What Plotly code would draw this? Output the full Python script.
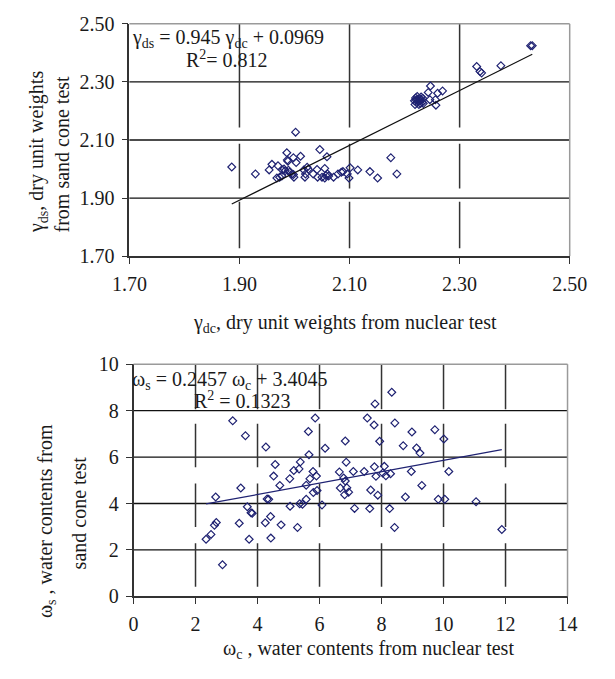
import numpy as np
import plotly.graph_objects as go

# ---------------- data: top chart (dry unit weights) ----------------
gamma_dc = [1.886, 1.929, 1.954, 1.959, 1.970, 1.968, 1.973, 1.977, 1.978, 1.981,
            1.983, 1.986, 1.987, 1.988, 1.989, 1.991, 1.995, 1.998, 1.998, 1.999,
            2.002, 2.003, 2.011, 2.017, 2.019, 2.020, 2.023, 2.025, 2.034, 2.041,
            2.042, 2.046, 2.050, 2.055, 2.055, 2.057, 2.059, 2.060, 2.062, 2.071,
            2.079, 2.085, 2.088, 2.096, 2.099, 2.101, 2.115, 2.137, 2.151, 2.175,
            2.186,
            2.218, 2.220, 2.222, 2.224, 2.226, 2.228, 2.230, 2.232, 2.219, 2.223,
            2.227, 2.231, 2.234, 2.221, 2.229, 2.225, 2.233,
            2.247, 2.243, 2.246, 2.256, 2.257, 2.260, 2.269,
            2.331, 2.337, 2.340, 2.375, 2.429, 2.432]
gamma_ds = [2.007, 1.983, 1.997, 2.016, 2.011, 1.969, 1.972, 1.976, 1.997, 2.000,
            1.994, 2.056, 2.031, 2.027, 1.996, 1.989, 1.982, 2.039, 1.981, 1.972,
            2.127, 2.022, 2.044, 1.997, 1.972, 1.983, 2.006, 1.999, 1.983, 1.998,
            1.972, 2.067, 1.972, 2.002, 1.969, 1.978, 2.042, 1.983, 1.976, 1.972,
            1.983, 1.989, 1.991, 1.983, 1.969, 2.004, 1.997, 1.991, 1.969, 2.039,
            1.983,
            2.235, 2.245, 2.228, 2.240, 2.222, 2.236, 2.248, 2.230, 2.222, 2.250,
            2.243, 2.238, 2.226, 2.238, 2.226, 2.232, 2.244,
            2.286, 2.264, 2.239, 2.239, 2.220, 2.261, 2.269,
            2.353, 2.336, 2.331, 2.356, 2.425, 2.425]
top_slope, top_intercept, top_r2 = 0.945, 0.0969, 0.812
top_x_ticks = [1.70, 1.90, 2.10, 2.30, 2.50]
top_y_ticks = [1.70, 1.90, 2.10, 2.30, 2.50]
top_vgrid_segments = [(2.50, 2.143), (2.087, 1.933), (1.887, 1.727)]

# ---------------- data: bottom chart (water contents) ----------------
w_c = [2.34, 2.50, 2.61, 2.67, 2.65, 2.87, 3.20, 3.41, 3.46, 3.61,
       3.67, 3.73, 3.79, 3.83, 4.25, 4.27, 4.31, 4.36, 4.42, 4.43,
       4.52, 4.57, 4.72, 4.76, 5.04, 5.05, 5.17, 5.29, 5.34, 5.38,
       5.36, 5.45, 5.57, 5.57, 5.64, 5.66, 5.69, 5.79, 5.80, 5.86,
       5.90, 5.92, 6.08, 6.18, 6.64, 6.67, 6.78, 6.81, 6.83, 6.83,
       6.86, 6.88, 6.94, 7.09, 7.13, 7.44, 7.54, 7.62, 7.65, 7.76,
       7.77, 7.79, 7.82, 7.88, 7.94, 8.04, 8.09, 8.14, 8.26, 8.29,
       8.33, 8.42, 8.43, 8.70, 8.77, 8.96, 8.98, 9.13, 9.24, 9.30,
       9.72, 9.83, 10.01, 10.04, 10.17, 11.05, 11.88]
w_s = [2.46, 2.67, 3.06, 3.18, 4.28, 1.36, 7.56, 3.15, 4.67, 6.92,
       3.86, 2.46, 3.60, 3.58, 3.17, 6.43, 4.19, 4.18, 3.44, 2.51,
       5.18, 5.68, 4.78, 3.08, 5.07, 3.88, 5.42, 2.97, 5.49, 5.79,
       3.99, 3.97, 4.18, 4.79, 7.10, 6.10, 5.07, 5.38, 4.47, 7.68,
       5.18, 4.56, 3.94, 6.38, 5.36, 4.67, 5.10, 4.38, 6.69, 4.97,
       5.78, 4.68, 4.49, 5.38, 3.79, 5.38, 7.68, 3.78, 4.58, 7.38,
       5.58, 8.29, 5.17, 4.36, 6.68, 5.31, 5.60, 5.19, 3.78, 5.28,
       8.79, 2.97, 7.47, 6.49, 4.28, 5.38, 7.08, 6.39, 6.17, 4.78,
       7.18, 4.18, 6.78, 4.18, 5.38, 4.08, 2.88]
bot_slope, bot_intercept, bot_r2 = 0.2457, 3.4045, 0.1323
bot_x_ticks = [0, 2, 4, 6, 8, 10, 12, 14]
bot_y_ticks = [0, 2, 4, 6, 8, 10]
bot_vgrid_segments = [(10, 8.06), (7.43, 5.56), (4.86, 2.99), (2.29, 0.42)]

# ---------------- styling ----------------
W, H = 615, 679
FONT = "Liberation Serif, Times New Roman, serif"
TXT = "#1a1a1a"
MARK = "#1f2272"
FS = 20


def px(x):
    return x / W


def py(y):
    return 1 - y / H


fig = go.Figure()

marker_style = dict(symbol="diamond-open", size=6, color=MARK, line=dict(width=1.2, color=MARK))

# top scatter
fig.add_trace(go.Scatter(x=gamma_dc, y=gamma_ds, mode="markers", xaxis="x", yaxis="y",
                         marker=marker_style, showlegend=False))
tx = np.array([min(gamma_dc), max(gamma_dc)])
fig.add_trace(go.Scatter(x=tx, y=top_slope * tx + top_intercept, mode="lines",
                         xaxis="x", yaxis="y", line=dict(color="#111111", width=1.2),
                         showlegend=False))

# bottom scatter
fig.add_trace(go.Scatter(x=w_c, y=w_s, mode="markers", xaxis="x2", yaxis="y2",
                         marker=marker_style, showlegend=False))
bx = np.array([min(w_c), max(w_c)])
fig.add_trace(go.Scatter(x=bx, y=bot_slope * bx + bot_intercept, mode="lines",
                         xaxis="x2", yaxis="y2", line=dict(color=MARK, width=1.3),
                         showlegend=False))

shapes = []
# horizontal gridlines (interior ticks)
for v in top_y_ticks[1:-1]:
    shapes.append(dict(type="line", xref="x domain", yref="y", x0=0, x1=1, y0=v, y1=v,
                       line=dict(color="#111111", width=1.3), layer="below"))
for v in bot_y_ticks[1:-1]:
    shapes.append(dict(type="line", xref="x2 domain", yref="y2", x0=0, x1=1, y0=v, y1=v,
                       line=dict(color="#111111", width=1.3), layer="below"))
# broken vertical gridlines
for v in top_x_ticks[1:-1]:
    for y0, y1 in top_vgrid_segments:
        shapes.append(dict(type="line", xref="x", yref="y", x0=v, x1=v, y0=y0, y1=y1,
                           line=dict(color="#333333", width=1.5), layer="below"))
for v in bot_x_ticks[1:-1]:
    for y0, y1 in bot_vgrid_segments:
        shapes.append(dict(type="line", xref="x2", yref="y2", x0=v, x1=v, y0=y0, y1=y1,
                           line=dict(color="#333333", width=1.5), layer="below"))
# grey top/right borders
for xa, ya in (("x", "y"), ("x2", "y2")):
    shapes.append(dict(type="line", xref=xa + " domain", yref=ya + " domain",
                       x0=0, x1=1, y0=1, y1=1, line=dict(color="#9a9a9a", width=1.5)))
    shapes.append(dict(type="line", xref=xa + " domain", yref=ya + " domain",
                       x0=1, x1=1, y0=0, y1=1, line=dict(color="#9a9a9a", width=1.5)))

axis_common = dict(showgrid=False, zeroline=False, showline=True, linecolor="#333333",
                   linewidth=1.6, ticks="outside", ticklen=6, tickwidth=1.2,
                   tickcolor="#333333", ticklabelstandoff=3,
                   tickfont=dict(family=FONT, size=FS, color=TXT))

fig.update_layout(
    width=W, height=H, margin=dict(l=0, r=0, t=0, b=0),
    paper_bgcolor="white", plot_bgcolor="white",
    xaxis=dict(domain=[px(118.3), px(586)], anchor="y", range=[1.70, 2.50],
               tickvals=top_x_ticks, ticktext=[f"{v:.2f}" for v in top_x_ticks], **axis_common),
    yaxis=dict(domain=[py(253.3), py(13.3)], anchor="x", range=[1.70, 2.50],
               tickvals=top_y_ticks, ticktext=[f"{v:.2f}" for v in top_y_ticks], **axis_common),
    xaxis2=dict(domain=[px(122.7), px(583.7)], anchor="y2", range=[0, 14],
                tickvals=bot_x_ticks, **axis_common),
    yaxis2=dict(domain=[py(605), py(365)], anchor="x2", range=[0, 10],
                tickvals=bot_y_ticks, **axis_common),
    shapes=shapes,
    font=dict(family=FONT, size=FS, color=TXT),
)

ann = []


def add_text(text, x, y, xanchor="center", yanchor="middle", angle=0):
    ann.append(dict(text=text, x=px(x), y=py(y), xref="paper", yref="paper",
                    xanchor=xanchor, yanchor=yanchor, showarrow=False, textangle=angle,
                    font=dict(family=FONT, size=FS, color=TXT)))


add_text(f"γ<sub>ds</sub> = {top_slope} γ<sub>dc</sub> + {top_intercept}", 119, 28, xanchor="left")
add_text(f"R<sup>2</sup>= {top_r2}", 222, 50)
add_text(f"ω<sub>s</sub> = {bot_slope} ω<sub>c</sub> + {bot_intercept}", 119, 382, xanchor="left")
add_text(f"R<sup>2</sup> = {bot_r2}", 238, 402)

add_text("γ<sub>dc</sub>, dry unit weights from nuclear test", 347, 323)
add_text("γ<sub>ds</sub>, dry unit weights", 21, 145, angle=-90)
add_text("from sand cone test", 47, 148, angle=-90)
add_text("ω<sub>c</sub> , water contents from nuclear test", 372, 660)
add_text("ω<sub>s</sub> , water contents from", 31, 527, angle=-90)
add_text("sand cone test", 65, 519, angle=-90)

fig.update_layout(annotations=ann)
fig.write_html("out.html")
